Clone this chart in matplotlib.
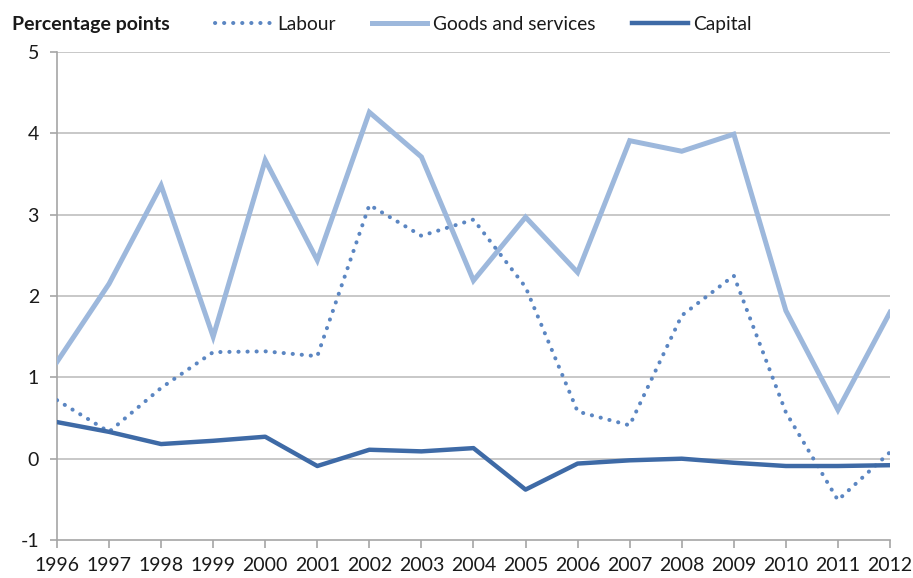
import matplotlib
matplotlib.use("Agg")
import matplotlib.pyplot as plt
from matplotlib.lines import Line2D

plt.rcParams['font.family'] = ['Lato', 'DejaVu Sans']

years = list(range(1996, 2013))
labour = [0.72, 0.33, 0.87, 1.31, 1.32, 1.26, 3.12, 2.74, 2.94, 2.11, 0.58,
          0.41, 1.76, 2.25, 0.57, -0.51, 0.08]
goods_services = [1.19, 2.15, 3.36, 1.50, 3.67, 2.44, 4.26, 3.71, 2.19, 2.97,
                  2.29, 3.91, 3.78, 3.99, 1.82, 0.60, 1.80]
capital = [0.45, 0.33, 0.18, 0.22, 0.27, -0.09, 0.11, 0.09, 0.13, -0.38,
           -0.06, -0.02, 0.00, -0.05, -0.09, -0.09, -0.08]
y_ticks = [-1, 0, 1, 2, 3, 4, 5]

LABOUR_C = '#5B86C2'
GOODS_C = '#9DB8DC'
CAPITAL_C = '#3E6AA6'
GRID_C = '#BFBFBF'
TEXT_C = '#1A1A1A'
DOTS = (0, (0.05, 2.2))

fig = plt.figure(figsize=(9.13, 5.78), dpi=100)
ax = fig.add_axes([0.0624, 0.0657, 0.9124, 0.8443])

ax.set_xlim(years[0], years[-1])
ax.set_ylim(-1, 5)

# horizontal gridlines
for v in y_ticks[1:]:
    ax.axhline(v, color=GRID_C, lw=1.2, zorder=1)

ax.plot(years, goods_services, color=GOODS_C, lw=3.6, solid_joinstyle='miter',
        zorder=3)
ax.plot(years, labour, color=LABOUR_C, lw=2.9, linestyle=DOTS,
        dash_capstyle='round', zorder=4)
ax.plot(years, capital, color=CAPITAL_C, lw=3.2, solid_joinstyle='round',
        zorder=5)

for s in ['top', 'right']:
    ax.spines[s].set_visible(False)
for s in ['left', 'bottom']:
    ax.spines[s].set_color('#A6A6A6')
    ax.spines[s].set_linewidth(1.2)

ax.set_xticks(years)
ax.set_xticklabels([str(y) for y in years])
ax.set_yticks(y_ticks)
ax.set_yticklabels([str(v) for v in y_ticks])
ax.tick_params(axis='x', direction='out', length=6, width=1.2, color='#A6A6A6',
               labelsize=14, pad=6, labelcolor=TEXT_C)
ax.tick_params(axis='y', direction='out', length=5, width=1.2, color='#A6A6A6',
               labelsize=14, pad=8, labelcolor=TEXT_C)

fig.text(0.013, 0.958, 'Percentage points', fontsize=14, fontweight='bold',
         color=TEXT_C, va='center', ha='left')

handles = [
    Line2D([], [], color=LABOUR_C, lw=2.9, linestyle=DOTS,
           dash_capstyle='round'),
    Line2D([], [], color=GOODS_C, lw=3.6),
    Line2D([], [], color=CAPITAL_C, lw=3.2),
]
fig.legend(handles, ['Labour', 'Goods and services', 'Capital'],
           loc='center left', bbox_to_anchor=(0.236, 0.958), ncol=3,
           frameon=False, fontsize=13.8, handlelength=2.9, handletextpad=0.3,
           columnspacing=1.9, borderaxespad=0, borderpad=0,
           labelcolor=TEXT_C)

fig.savefig('out.png', dpi=100)
